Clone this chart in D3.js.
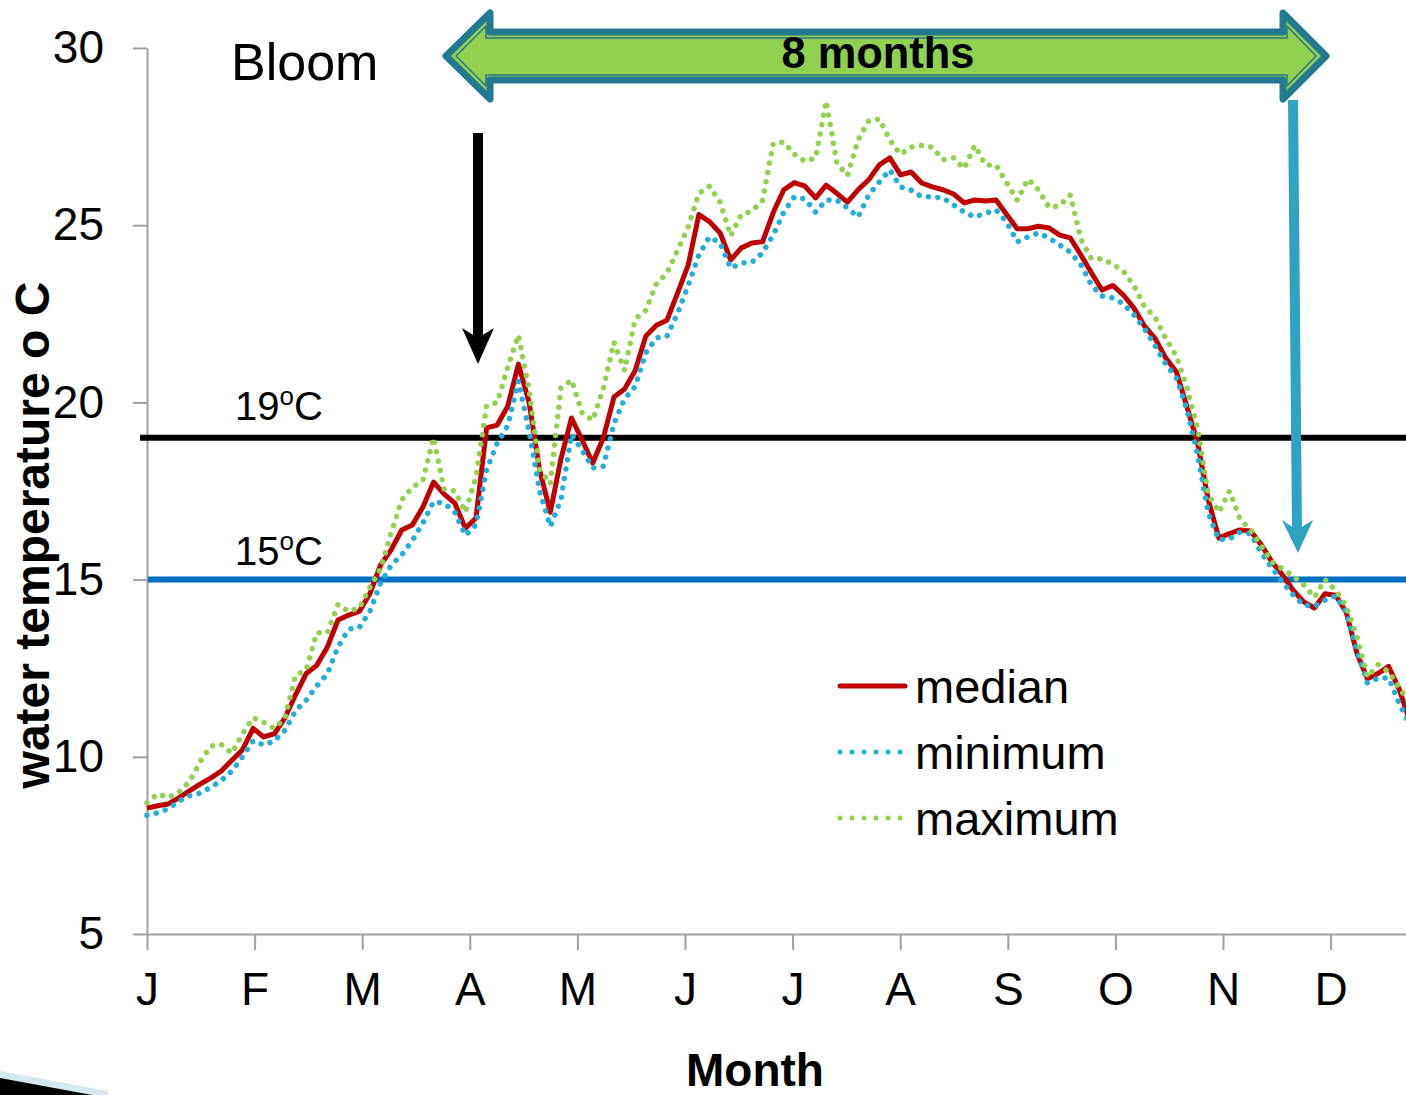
<!DOCTYPE html>
<html>
<head>
<meta charset="utf-8">
<script src="https://cdn.jsdelivr.net/npm/d3@7"></script>
<style>
  html, body { margin: 0; padding: 0; background: #ffffff; }
  svg { display: block; }
  text { font-family: "Liberation Sans", Arial, sans-serif; }
</style>
</head>
<body>
<svg id="chart" width="1406" height="1095"></svg>
<script>
// ---- data ----
const monthLabels = ["J","F","M","A","M","J","J","A","S","O","N","D"];
const yTicks = [5, 10, 15, 20, 25, 30];
const thresholds = [19, 15];
const thresholdLabels = ["19", "15"];
const seriesNames = ["median", "minimum", "maximum"];

const days = [0,3,6,9,12,15,18,21,24,27,30,33,36,39,42,45,48,51,54,57,
  60,63,66,69,72,75,78,81,84,87,90,93,96,99,102,105,108,111,114,117,
  120,123,126,129,132,135,138,141,144,147,150,153,156,159,162,165,168,171,174,177,
  180,183,186,189,192,195,198,201,204,207,210,213,216,219,222,225,228,231,234,237,
  240,243,246,249,252,255,258,261,264,267,270,273,276,279,282,285,288,291,294,297,
  300,303,306,309,312,315,318,321,324,327,330,333,336,339,342,345,348,351,354,357];

const medianTemp = [8.55,8.62,8.67,8.84,9.04,9.23,9.40,9.60,9.90,10.20,
  10.80,10.56,10.65,11.10,11.75,12.35,12.58,13.10,13.86,14.00,
  14.10,14.60,15.41,15.84,16.40,16.54,17.05,17.75,17.41,17.16,
  16.45,16.74,19.28,19.36,19.90,21.08,20.00,18.09,16.90,18.40,
  19.56,18.94,18.29,19.00,20.15,20.38,20.90,21.87,22.18,22.32,
  23.09,23.88,25.30,25.10,24.78,24.02,24.36,24.50,24.53,25.35,
  26.00,26.20,26.10,25.77,26.13,25.90,25.65,26.00,26.28,26.70,
  26.90,26.42,26.50,26.19,26.08,26.00,25.88,25.63,25.71,25.68,
  25.71,25.30,24.90,24.90,24.97,24.92,24.72,24.64,24.16,23.65,
  23.17,23.30,23.03,22.66,22.15,21.80,21.25,20.86,19.87,18.85,
  17.25,16.17,16.30,16.40,16.37,15.98,15.50,15.13,14.70,14.37,
  14.20,14.60,14.56,14.08,12.93,12.20,12.35,12.55,11.90,11.00];

const minimumTemp = [8.35,8.42,8.53,8.75,8.90,8.97,9.14,9.33,9.60,10.00,
  10.45,10.33,10.45,10.75,11.30,11.60,12.00,12.35,13.10,13.60,
  13.65,14.10,14.90,15.40,15.70,16.10,16.60,17.20,17.15,16.90,
  16.25,16.55,18.10,18.85,19.35,20.60,19.20,17.50,16.50,17.25,
  19.10,18.65,18.15,18.20,19.40,20.10,20.45,21.40,21.82,21.87,
  22.52,23.31,24.16,24.67,24.50,23.79,23.93,23.96,24.22,24.72,
  25.37,25.80,25.74,25.37,25.71,25.71,25.49,25.23,25.85,26.22,
  26.56,26.08,25.99,25.80,25.80,25.77,25.57,25.37,25.23,25.34,
  25.43,25.09,24.53,24.67,24.78,24.64,24.44,24.24,23.88,23.31,
  23.00,22.95,22.78,22.47,22.07,21.59,21.08,20.69,19.78,18.52,
  16.88,16.12,16.15,16.34,16.29,15.75,15.33,14.93,14.57,14.28,
  14.25,14.42,14.54,14.08,13.01,12.08,12.22,12.22,11.50,10.90];

const maximumTemp = [8.70,8.95,8.85,9.00,9.30,9.85,10.30,10.35,10.10,10.65,
  11.10,10.97,10.80,11.10,12.30,12.45,13.50,13.50,14.30,14.10,
  14.20,14.78,15.30,16.30,17.25,17.60,17.80,19.00,17.55,17.50,
  16.90,17.90,19.90,20.00,21.00,21.90,20.35,18.10,17.70,20.40,
  20.63,19.70,19.50,20.40,21.70,20.90,22.35,22.60,23.35,23.65,
  24.30,24.95,25.90,26.10,25.65,24.70,25.30,25.40,25.70,27.30,
  27.35,27.00,26.80,26.90,28.50,26.75,26.40,27.40,27.95,28.00,
  27.40,27.00,27.20,27.25,27.20,26.85,26.90,26.60,27.25,26.70,
  26.70,26.20,25.70,26.30,26.00,25.50,25.55,25.85,24.60,24.05,
  24.05,23.90,23.70,23.30,22.70,22.40,21.80,21.30,20.40,19.25,
  17.40,16.90,17.50,16.70,16.40,15.95,15.50,15.30,15.10,14.85,
  14.50,15.00,14.70,14.25,13.40,12.25,12.60,12.40,11.95,11.50];

// ---- layout ----
const svg = d3.select("#chart");
svg.append("rect").attr("width", 1406).attr("height", 1095).attr("fill", "#fff");

const x = d3.scaleLinear().domain([0, 365]).range([147, 147 + 12 * 107.6]);
const y = d3.scaleLinear().domain([5, 30]).range([934, 48]);
const monthStarts = monthLabels.map((m, i) => i * 365 / 12);

const axisColor = "#A0A0A0";

// y axis
const yAxis = svg.append("g").attr("transform", "translate(147,0)")
  .call(d3.axisLeft(y).tickValues(yTicks).tickSize(14).tickSizeOuter(0).tickPadding(29));
yAxis.select(".domain").attr("stroke", axisColor).attr("stroke-width", 2);
yAxis.selectAll(".tick line").attr("stroke", axisColor).attr("stroke-width", 2);
yAxis.selectAll(".tick text").attr("font-size", 46).attr("fill", "#000")
  .attr("font-family", "Liberation Sans, Arial, sans-serif");

// x axis
const xAxis = svg.append("g").attr("transform", "translate(0,934)")
  .call(d3.axisBottom(x).tickValues(monthStarts).tickSize(16).tickSizeOuter(0).tickPadding(22)
    .tickFormat((d, i) => monthLabels[i]));
xAxis.select(".domain").attr("stroke", axisColor).attr("stroke-width", 2);
xAxis.selectAll(".tick line").attr("stroke", axisColor).attr("stroke-width", 2);
xAxis.selectAll(".tick text").attr("font-size", 46).attr("fill", "#000")
  .attr("font-family", "Liberation Sans, Arial, sans-serif");

// threshold lines
svg.append("line").attr("x1", 140).attr("x2", 1406)
  .attr("y1", y(thresholds[0])).attr("y2", y(thresholds[0]))
  .attr("stroke", "#000").attr("stroke-width", 6);
svg.append("line").attr("x1", 148).attr("x2", 1406)
  .attr("y1", y(thresholds[1])).attr("y2", y(thresholds[1]))
  .attr("stroke", "#0070C0").attr("stroke-width", 6);

// threshold labels
[[thresholdLabels[0], 420], [thresholdLabels[1], 565]].forEach(([lab, by]) => {
  const t = svg.append("text").attr("x", 235).attr("y", by).attr("font-size", 40).attr("fill", "#000");
  t.append("tspan").text(lab);
  t.append("tspan").attr("font-size", 26).attr("dy", -15).text("o");
  t.append("tspan").attr("dy", 15).text("C");
});

// series
const line = d3.line().x(d => x(d.day)).y(d => y(d.v));
const mk = arr => days.map((d, i) => ({ day: d, v: arr[i] }));

svg.append("path").datum(mk(medianTemp)).attr("d", line)
  .attr("fill", "none").attr("stroke", "#C00000").attr("stroke-width", 5)
  .attr("stroke-linejoin", "round");
svg.append("path").datum(mk(minimumTemp)).attr("d", line)
  .attr("fill", "none").attr("stroke", "#22AEDA").attr("stroke-width", 5.5)
  .attr("stroke-linecap", "round").attr("stroke-dasharray", "0.01 9.5");
svg.append("path").datum(mk(maximumTemp)).attr("d", line)
  .attr("fill", "none").attr("stroke", "#92D050").attr("stroke-width", 5.5)
  .attr("stroke-linecap", "round").attr("stroke-dasharray", "0.01 9.5");

// legend
const leg = [
  { name: seriesNames[0], color: "#C00000", dash: null, yy: 686 },
  { name: seriesNames[1], color: "#22AEDA", dash: "0.01 12", yy: 752 },
  { name: seriesNames[2], color: "#92D050", dash: "0.01 12", yy: 818 }
];
leg.forEach(l => {
  const ln = svg.append("line").attr("x1", 840).attr("x2", l.dash ? 901 : 905)
    .attr("y1", l.yy).attr("y2", l.yy).attr("stroke", l.color)
    .attr("stroke-width", 5).attr("stroke-linecap", "round");
  if (l.dash) ln.attr("stroke-dasharray", l.dash);
  svg.append("text").attr("x", 915).attr("y", l.yy + 17).attr("font-size", 47)
    .attr("fill", "#000").text(l.name);
});

// axis titles
svg.append("text").attr("transform", "translate(49,535) rotate(-90)")
  .attr("text-anchor", "middle").attr("font-size", 48).attr("font-weight", "bold")
  .attr("fill", "#000").text("water temperature o C");
svg.append("text").attr("x", 755).attr("y", 1086).attr("text-anchor", "middle")
  .attr("font-size", 46).attr("font-weight", "bold").attr("fill", "#000").text("Month");

// Bloom
svg.append("text").attr("x", 231).attr("y", 80).attr("font-size", 52).attr("fill", "#000").text("Bloom");

// black arrow
svg.append("rect").attr("x", 473).attr("y", 133).attr("width", 10).attr("height", 208).attr("fill", "#000");
svg.append("path").attr("d", "M462,328 L478,338 L494,328 L478,364 Z").attr("fill", "#000");

// blue arrow
svg.append("line").attr("x1", 1293).attr("y1", 100).attr("x2", 1297).attr("y2", 530)
  .attr("stroke", "#2EA3C2").attr("stroke-width", 10);
svg.append("path").attr("d", "M1282,520 L1297,530 L1313,520 L1298,553 Z").attr("fill", "#2EA3C2");

// green double arrow
const outer = "M446,56 L490,13 L490,32 L1283,32 L1283,13 L1326,56 L1283,99 L1283,80 L490,80 L490,99 Z";
const inner = "M456,56 L486,26 L486,38 L1287,38 L1287,26 L1316,56 L1287,86 L1287,75 L486,75 L486,86 Z";
svg.append("path").attr("d", outer).attr("fill", "#92D050").attr("stroke", "#217A8F")
  .attr("stroke-width", 7).attr("stroke-linejoin", "round");
svg.append("path").attr("d", inner).attr("fill", "none").attr("stroke", "#217A8F")
  .attr("stroke-width", 1.5).attr("stroke-linejoin", "round");
svg.append("text").attr("x", 878).attr("y", 68).attr("text-anchor", "middle")
  .attr("font-family", "Roboto, 'Open Sans', sans-serif").attr("font-weight", "bold")
  .attr("font-size", 45).attr("textLength", 193).attr("lengthAdjust", "spacingAndGlyphs")
  .attr("fill", "#000").text("8 months");

// slide decoration bottom-left
svg.append("path").attr("d", "M0,1071 L108,1091 L108,1095 L0,1095 Z").attr("fill", "#D5E8F0");
svg.append("path").attr("d", "M0,1078 L92,1095 L0,1095 Z").attr("fill", "#000");
</script>
</body>
</html>
